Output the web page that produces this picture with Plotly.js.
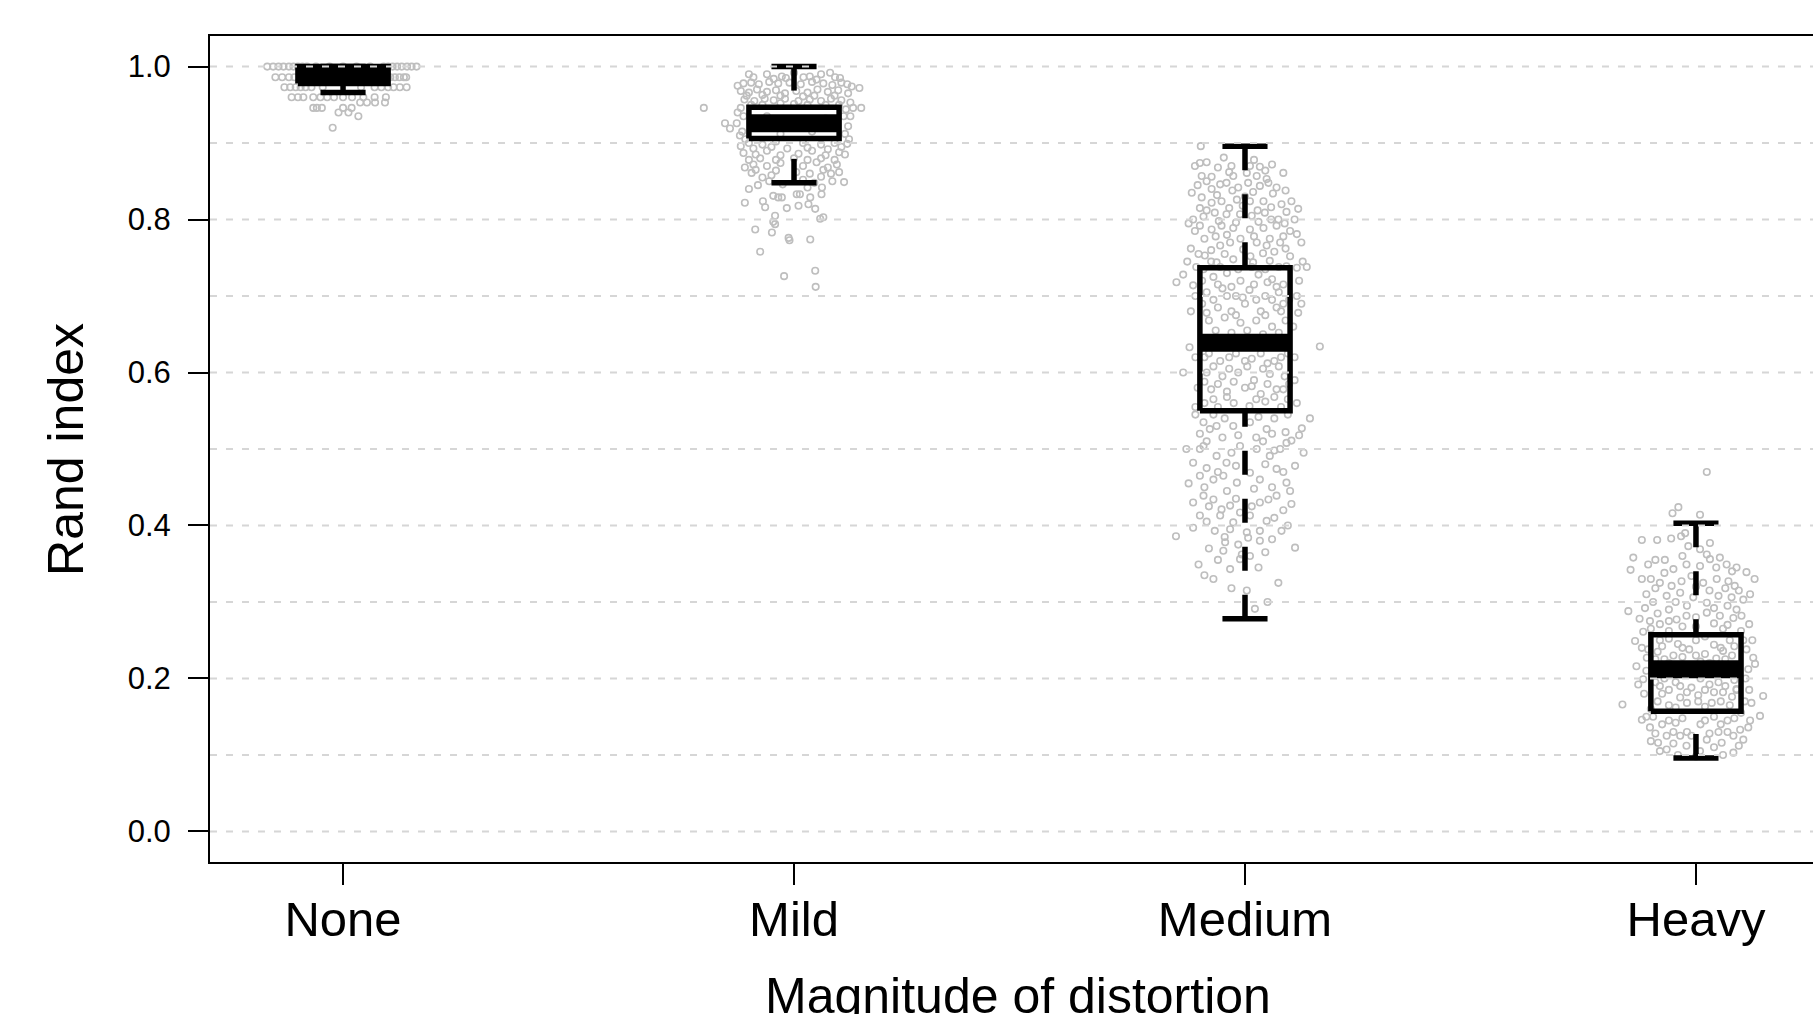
<!DOCTYPE html>
<html>
<head>
<meta charset="utf-8">
<script src="https://cdn.plot.ly/plotly-3.0.1.min.js"></script>
<style>
html, body { margin: 0; padding: 0; overflow: hidden; background: #fff; }
#chart { width: 1840px; height: 1014px; }
</style>
</head>
<body>
<div id="chart"></div>
<script>
// ---- data ----
const categories = ['None', 'Mild', 'Medium', 'Heavy'];
const tickValues = [0, 0.2, 0.4, 0.6, 0.8, 1.0];
const tickLabels = ['0.0', '0.2', '0.4', '0.6', '0.8', '1.0'];
const gridValues = [0, 0.1, 0.2, 0.3, 0.4, 0.5, 0.6, 0.7, 0.8, 0.9, 1.0];

// box-plot statistics per category
const lowerWhisker = [0.966, 0.848, 0.278, 0.096];
const lowerQuartile = [0.978, 0.906, 0.550, 0.157];
const medianValue = [0.990, 0.926, 0.639, 0.212];
const upperQuartile = [1.000, 0.947, 0.737, 0.257];
const upperWhisker = [1.000, 1.000, 0.896, 0.403];

// jittered observations: [horizontal jitter, Rand index]
const nonePoints = [
  [-0.168,1.0],[-0.155,1.0],[-0.143,1.0],[-0.132,1.0],[-0.12,1.0],[-0.11,1.0],[-0.1,1.0],[-0.09,1.0],[-0.08,1.0],[-0.06,1.0],[-0.03,1.0],[0.0,1.0],[0.03,1.0],[0.06,1.0],[0.09,1.0],[0.1,1.0],[0.11,1.0],[0.12,1.0],[0.13,1.0],[0.142,1.0],[0.152,1.0],[0.163,1.0],
  [-0.15,0.986],[-0.135,0.986],[-0.12,0.986],[-0.108,0.986],[-0.095,0.986],[0.095,0.986],[0.105,0.986],[0.115,0.986],[0.125,0.986],[0.135,0.986],[0.14,0.986],
  [-0.13,0.973],[-0.117,0.973],[-0.105,0.973],[-0.094,0.973],[-0.083,0.973],[-0.07,0.973],[-0.045,0.973],[0.04,0.973],[0.07,0.973],[0.085,0.973],[0.1,0.973],[0.112,0.973],[0.126,0.973],[0.141,0.973],
  [-0.114,0.96],[-0.1,0.96],[-0.088,0.96],[-0.066,0.96],[-0.05,0.96],[-0.035,0.96],[-0.02,0.96],[0.0,0.96],[0.02,0.96],[0.045,0.96],[0.07,0.96],[0.095,0.96],
  [0.038,0.953],[0.053,0.953],[0.071,0.953],[0.093,0.953],
  [-0.066,0.946],[-0.058,0.946],[-0.047,0.946],[-0.01,0.94],[0.0,0.946],[0.012,0.94],[0.019,0.946],
  [0.034,0.935],[-0.023,0.92]
];
const mildPoints = [
  [-0.090,0.986],[-0.027,0.987],[-0.018,0.985],[0.021,0.986],[0.035,0.987],[0.091,0.986],[0.102,0.985],[-0.06,0.99],[0.06,0.99],[0.0,0.992],
  [-0.1,0.99],[0.08,0.992],[-0.045,0.984],[0.05,0.983],[-0.125,0.975],[0.128,0.974],
  [-0.112,0.978],[-0.095,0.979],[-0.078,0.977],[-0.055,0.98],[-0.035,0.978],[-0.01,0.979],[0.015,0.977],[0.04,0.98],[0.065,0.978],[0.085,0.976],[0.105,0.979],[0.118,0.977],
  [-0.118,0.968],[-0.1,0.966],[-0.082,0.97],[-0.06,0.967],[-0.04,0.969],[-0.02,0.965],[0.005,0.968],[0.03,0.966],[0.052,0.97],[0.075,0.967],[0.098,0.969],[0.12,0.965],[0.145,0.972],
  [-0.105,0.962],[-0.07,0.963],[-0.03,0.962],[0.02,0.961],[0.045,0.962],[0.09,0.962],
  [-0.11,0.957],[-0.088,0.955],[-0.065,0.958],[-0.045,0.956],[-0.02,0.958],[0.01,0.955],[0.035,0.957],[0.06,0.955],[0.082,0.958],[0.105,0.956],[0.125,0.953],
  [-0.095,0.95],[-0.07,0.95],[-0.03,0.952],[0.0,0.951],[0.03,0.95],[0.07,0.95],[0.1,0.95],
  [-0.2,0.946],[0.131,0.946],[0.149,0.946],[-0.118,0.946],[0.115,0.944],
  [-0.125,0.94],[0.125,0.935],[-0.12,0.91],[0.122,0.905],
  [-0.153,0.926],[-0.142,0.919],[-0.127,0.926],[-0.112,0.935],[-0.115,0.915],[0.11,0.935],[0.12,0.922],[0.113,0.912],[-0.108,0.905],
  [-0.06,0.935],[0.04,0.915],[-0.03,0.912],[0.07,0.932],
  [-0.1,0.9],[-0.07,0.898],[-0.04,0.902],[0.02,0.9],[0.06,0.898],[0.09,0.9],[0.118,0.899],[-0.118,0.896],
  [-0.09,0.893],[-0.05,0.895],[-0.015,0.893],[0.03,0.894],[0.075,0.892],[0.105,0.895],
  [-0.112,0.887],[-0.085,0.885],[-0.06,0.89],[-0.03,0.884],[0.01,0.886],[0.04,0.89],[0.07,0.884],[0.1,0.888],[0.113,0.885],
  [-0.1,0.878],[-0.075,0.88],[-0.04,0.878],[0.0,0.88],[0.03,0.878],[0.06,0.88],[0.09,0.878],
  [-0.109,0.868],[-0.09,0.872],[-0.06,0.87],[-0.03,0.874],[0.02,0.87],[0.05,0.875],[0.075,0.868],[0.095,0.872],
  [-0.085,0.865],[-0.04,0.864],[0.005,0.862],[0.065,0.865],[0.1,0.862],
  [-0.094,0.861],[-0.05,0.858],[0.035,0.86],[0.06,0.856],[0.082,0.86],[-0.07,0.855],
  [0.111,0.849],[-0.055,0.85],[0.045,0.848],[-0.025,0.846],[0.062,0.842],[0.02,0.852],
  [-0.08,0.845],[0.03,0.842],[0.085,0.85],[-0.1,0.84],
  [-0.109,0.822],[-0.069,0.824],[-0.064,0.816],[-0.046,0.831],[-0.035,0.829],[-0.027,0.829],[0.006,0.833],[0.013,0.833],[0.032,0.82],[0.047,0.814],[0.061,0.833],[0.036,0.829],[-0.016,0.815],[0.01,0.818],
  [-0.042,0.805],[-0.046,0.797],[-0.042,0.794],[0.058,0.801],[0.065,0.803],[-0.086,0.787],[-0.049,0.783],[-0.012,0.776],[-0.01,0.773],[0.036,0.774],
  [-0.075,0.758],[0.047,0.733],[-0.022,0.726],[0.048,0.712]
];
const mediumPoints = [
  [-0.098,0.896],[-0.047,0.881],[-0.1,0.874],[-0.111,0.870],[-0.030,0.870],[0.011,0.870],[0.033,0.869],[-0.096,0.857],[-0.074,0.856],[-0.026,0.857],[0.004,0.861],[0.026,0.857],[0.048,0.853],[0.085,0.861],
  [-0.085,0.875],[-0.06,0.868],[0.02,0.878],[0.06,0.872],[-0.035,0.862],[0.045,0.864],
  [-0.118,0.835],[-0.096,0.829],[-0.074,0.840],[-0.055,0.846],[-0.041,0.848],[-0.015,0.842],[0.007,0.848],[0.033,0.844],[0.052,0.848],[0.070,0.842],
  [-0.105,0.845],[-0.085,0.85],[-0.028,0.838],[0.018,0.836],[0.062,0.834],[0.09,0.838],[-0.062,0.832],[0.0,0.83],
  [-0.074,0.822],[-0.052,0.824],[-0.018,0.826],[0.011,0.824],[0.041,0.824],[0.081,0.820],[0.103,0.824],[0.118,0.814],
  [-0.1,0.815],[-0.085,0.812],[-0.035,0.815],[-0.005,0.818],[0.028,0.812],[0.058,0.816],[0.092,0.81],
  [-0.115,0.800],[-0.092,0.804],[-0.067,0.809],[-0.041,0.807],[-0.011,0.807],[0.015,0.805],[0.044,0.809],[0.074,0.800],
  [-0.125,0.795],[-0.058,0.798],[-0.02,0.796],[0.03,0.797],[0.058,0.8],[0.088,0.795],[0.11,0.8],
  [-0.111,0.785],[-0.1,0.792],[-0.074,0.787],[-0.052,0.792],[-0.026,0.789],[0.011,0.787],[0.041,0.789],[0.070,0.792],[0.1,0.785],[0.115,0.781],
  [-0.09,0.775],[-0.065,0.778],[-0.04,0.78],[-0.01,0.775],[0.02,0.778],[0.055,0.775],[0.085,0.778],[0.125,0.77],
  [-0.12,0.762],[-0.075,0.76],[-0.045,0.755],[0.012,0.752],[0.04,0.756],[0.065,0.758],[0.09,0.762],
  [-0.103,0.755],[-0.089,0.753],[-0.055,0.766],[-0.033,0.770],[-0.004,0.761],[0.026,0.770],[0.048,0.766],[0.078,0.770],[0.1,0.752],[0.137,0.738],
  [-0.128,0.745],[-0.108,0.738],[-0.095,0.72],[0.12,0.72],[0.128,0.745],[-0.11,0.70],[-0.12,0.68],[0.125,0.69],
  [-0.152,0.718],[-0.137,0.728],[-0.115,0.714],
  [-0.063,0.744],[-0.026,0.748],[0.018,0.744],[0.055,0.746],[0.092,0.739],[0.115,0.737],
  [-0.075,0.745],[-0.055,0.738],[-0.015,0.735],[0.015,0.738],[0.045,0.735],[0.075,0.738],
  [-0.092,0.735],[-0.07,0.725],[-0.04,0.73],[-0.01,0.72],[0.03,0.728],[0.06,0.722],[0.085,0.715],
  [-0.06,0.715],[-0.03,0.712],[0.02,0.715],[0.05,0.718],[0.07,0.712],
  [-0.085,0.705],[-0.05,0.71],[-0.02,0.70],[0.01,0.708],[0.045,0.70],[0.075,0.705],[0.098,0.695],[0.115,0.70],
  [-0.07,0.695],[-0.04,0.7],[-0.005,0.698],[0.025,0.695],[0.06,0.695],[0.085,0.69],
  [-0.095,0.69],[-0.06,0.685],[-0.03,0.68],[0.0,0.69],[0.035,0.68],[0.07,0.685],[0.118,0.678],
  [-0.085,0.678],[-0.02,0.675],[0.045,0.675],[0.08,0.68],
  [-0.08,0.668],[-0.045,0.672],[-0.01,0.665],[0.025,0.668],[0.06,0.66],[0.09,0.668],[0.107,0.66],
  [-0.065,0.655],[-0.03,0.652],[0.005,0.655],[0.04,0.65],[0.075,0.652],
  [-0.123,0.633],[0.166,0.634],
  [-0.09,0.62],[-0.055,0.615],[-0.02,0.625],[0.015,0.618],[0.05,0.612],[0.08,0.62],
  [-0.08,0.625],[-0.035,0.62],[0.0,0.615],[0.035,0.625],[0.065,0.615],[0.095,0.625],[-0.11,0.62],[0.11,0.62],
  [-0.07,0.608],[-0.035,0.605],[0.005,0.608],[0.04,0.605],[0.075,0.608],
  [-0.137,0.60],[-0.085,0.60],[-0.05,0.595],[-0.015,0.60],[0.02,0.59],[0.055,0.598],[0.088,0.595],
  [-0.09,0.588],[-0.06,0.585],[-0.025,0.588],[0.015,0.582],[0.05,0.585],[0.085,0.578],[-0.105,0.58],[0.11,0.59],
  [-0.075,0.578],[-0.04,0.575],[0.0,0.58],[0.035,0.572],[0.07,0.578],[0.098,0.585],
  [-0.07,0.565],[-0.04,0.568],[0.025,0.565],[0.065,0.568],[0.095,0.565],[-0.11,0.555],[0.115,0.56],
  [-0.09,0.56],[-0.06,0.555],[-0.025,0.56],[0.01,0.556],[0.045,0.562],[0.08,0.555],
  [-0.11,0.545],[-0.07,0.545],[-0.045,0.54],[0.03,0.542],[0.065,0.54],[0.095,0.545],
  [-0.092,0.535],[-0.078,0.526],[-0.063,0.530],[-0.026,0.530],[0.011,0.535],[0.048,0.526],[0.126,0.527],[0.144,0.540],
  [-0.1,0.52],[-0.05,0.515],[-0.015,0.518],[0.025,0.515],[0.06,0.52],[0.09,0.522],[0.12,0.518],
  [-0.085,0.51],[-0.03,0.495],[0.04,0.51],[0.065,0.498],[-0.13,0.5],[0.13,0.495],
  [-0.115,0.482],[-0.1,0.50],[-0.092,0.504],[-0.063,0.491],[-0.041,0.482],[-0.011,0.504],[0.026,0.50],[0.055,0.491],[0.078,0.50],[0.092,0.508],[0.103,0.511],[0.111,0.478],
  [-0.085,0.475],[-0.06,0.47],[-0.02,0.478],[0.045,0.48],[0.085,0.47],[-0.1,0.465],
  [-0.07,0.460],[-0.048,0.465],[-0.018,0.456],[0.011,0.469],[0.033,0.460],[0.070,0.474],[0.092,0.456],
  [-0.09,0.45],[-0.04,0.445],[0.02,0.448],[0.06,0.45],[0.1,0.445],[-0.125,0.455],
  [-0.115,0.430],[-0.092,0.439],[-0.070,0.434],[-0.052,0.421],[-0.033,0.426],[-0.011,0.417],[0.033,0.430],[0.052,0.434],[0.070,0.439],[0.103,0.428],
  [-0.08,0.425],[0.015,0.425],[0.085,0.42],[-0.02,0.435],
  [-0.1,0.413],[-0.055,0.413],[-0.026,0.404],[0.011,0.413],[0.048,0.406],
  [-0.085,0.405],[0.065,0.41],[-0.045,0.385],[0.06,0.382],[0.095,0.4],
  [-0.115,0.397],[-0.067,0.393],[-0.033,0.395],[0.004,0.391],[0.033,0.393],[0.081,0.393],[-0.153,0.386],
  [-0.044,0.378],[-0.015,0.375],[0.007,0.384],[0.033,0.380],[0.111,0.371],
  [-0.08,0.37],[0.045,0.365],[-0.06,0.355],[0.03,0.345],[-0.09,0.335],[0.05,0.3],
  [-0.103,0.349],[-0.048,0.367],[-0.007,0.362],[0.011,0.360],
  [-0.070,0.330],[-0.033,0.343],[-0.011,0.356],[0.074,0.325],[-0.030,0.318],[0.004,0.315],[0.022,0.291]
];
const heavyPoints = [
  [0.024,0.470],[-0.052,0.416],[-0.039,0.424],[0.009,0.414],
  [-0.120,0.381],[-0.086,0.381],[-0.055,0.383],[-0.033,0.386],[-0.024,0.390],
  [-0.017,0.373],[0.009,0.369],[0.024,0.362],[0.031,0.377],
  [-0.139,0.358],[-0.145,0.342],[-0.106,0.349],[-0.069,0.355],[-0.050,0.343],[-0.021,0.349],[0.009,0.347],[0.031,0.356],[0.053,0.358],[0.068,0.349],[0.090,0.345],[0.112,0.339],
  [-0.09,0.355],[-0.03,0.36],[0.045,0.345],[0.08,0.34],[-0.07,0.338],
  [-0.080,0.325],[-0.054,0.321],[-0.032,0.327],[-0.010,0.334],[0.016,0.325],[0.046,0.330],[0.072,0.327],[0.086,0.321],[-0.12,0.33],[0.13,0.33],
  [-0.1,0.33],[0.0,0.32],[0.03,0.315],[0.065,0.318],
  [-0.11,0.31],[-0.09,0.318],[0.095,0.315],[0.12,0.31],
  [-0.045,0.3],[-0.02,0.295],[0.04,0.292],[0.07,0.295],[0.09,0.29],[-0.085,0.285],[-0.06,0.29],
  [-0.150,0.288],[-0.113,0.292],[-0.095,0.300],[-0.065,0.308],[-0.035,0.312],[-0.006,0.306],[0.024,0.299],[0.050,0.308],[0.079,0.306],[0.105,0.303],
  [-0.125,0.278],[0.0,0.28],[0.04,0.272],[0.07,0.27],[-0.06,0.275],[-0.03,0.268],
  [-0.102,0.275],[-0.080,0.271],[-0.043,0.277],[-0.021,0.282],[0.024,0.286],[0.053,0.282],[0.083,0.279],[0.101,0.282],[0.118,0.271],
  [-0.1,0.265],[-0.06,0.262],[0.0,0.268],[0.06,0.265],[0.1,0.262],
  [-0.117,0.261],[-0.135,0.249],[-0.132,0.216],[-0.128,0.192],[-0.163,0.166],[-0.109,0.227],[-0.117,0.199],[-0.106,0.238],
  [-0.12,0.24],[-0.11,0.21],[-0.115,0.18],[0.105,0.25],[0.11,0.2],[0.118,0.185],[0.108,0.17],[0.125,0.25],
  [0.112,0.238],[0.127,0.227],[0.131,0.219],[0.116,0.212],[0.149,0.177],[0.142,0.151],[0.123,0.168],[0.090,0.216],[0.090,0.186],
  [-0.08,0.25],[-0.04,0.245],[0.0,0.25],[0.04,0.244],[0.075,0.25],
  [-0.06,0.252],[0.02,0.255],[0.055,0.24],[-0.03,0.24],[-0.075,0.242],[0.085,0.242],
  [-0.085,0.235],[-0.05,0.23],[-0.015,0.238],[0.02,0.232],[0.06,0.236],
  [-0.07,0.225],[-0.03,0.228],[0.01,0.222],[0.045,0.226],[0.08,0.23],
  [-0.06,0.22],[0.0,0.23],[0.03,0.22],[0.065,0.225],[-0.09,0.225],
  [-0.07,0.2],[-0.035,0.19],[0.01,0.2],[0.05,0.195],[0.085,0.198],[-0.09,0.195],
  [-0.08,0.19],[-0.045,0.195],[-0.01,0.188],[0.03,0.192],[0.065,0.19],
  [-0.06,0.185],[-0.02,0.182],[0.02,0.185],[0.06,0.182],[0.09,0.185],
  [-0.075,0.18],[-0.035,0.175],[0.005,0.178],[0.04,0.182],[0.08,0.176],
  [-0.085,0.17],[-0.045,0.162],[0.005,0.17],[0.035,0.168],[0.075,0.165],
  [-0.06,0.165],[-0.02,0.168],[0.02,0.163],[0.055,0.17],
  [-0.095,0.15],[-0.06,0.145],[-0.03,0.148],[0.01,0.14],[0.04,0.15],[0.07,0.145],[-0.1,0.16],[0.1,0.155],[-0.05,0.13],[0.05,0.13],[-0.01,0.125],
  [-0.11,0.15],[-0.075,0.14],[-0.045,0.142],[0.02,0.145],[0.055,0.14],[0.085,0.148],[0.12,0.145],
  [-0.09,0.128],[-0.065,0.125],[-0.02,0.13],[0.03,0.128],[0.07,0.13],[0.105,0.12],
  [-0.1,0.118],[-0.05,0.115],[0.04,0.11],[0.095,0.112],[-0.04,0.1],[0.06,0.1],[0.0,0.098],
  [-0.120,0.146],[-0.102,0.136],[-0.084,0.116],[-0.065,0.107],[-0.035,0.125],[0.024,0.120],[0.057,0.116],[0.083,0.125],[0.098,0.133],[0.116,0.136],[0.083,0.103],[-0.080,0.105],[-0.021,0.112],[0.009,0.105]
];
const groupPoints = [nonePoints, mildPoints, mediumPoints, heavyPoints];

// ---- styling ----
const FONT = '"Liberation Sans", Arial, Helvetica, sans-serif';
const boxHalf = 0.1;
const capHalf = 0.05;
const lineW = 5.5;
const medianW = 18;

const traces = [];
groupPoints.forEach((pts, i) => {
  traces.push({
    type: 'scatter', mode: 'markers',
    x: pts.map(p => i + p[0]),
    y: pts.map(p => p[1]),
    marker: { symbol: 'circle-open', size: 6.5, color: '#bebebe', line: { width: 1.6, color: '#bebebe' } },
    hoverinfo: 'skip', cliponaxis: false
  });
});

categories.forEach((c, i) => {
  const black = { color: '#000', width: lineW };
  traces.push({ type: 'scatter', mode: 'lines', x: [i, i], y: [lowerWhisker[i], lowerQuartile[i]],
    line: { color: '#000', width: lineW, dash: '24px,24px' }, hoverinfo: 'skip' });
  traces.push({ type: 'scatter', mode: 'lines', x: [i, i], y: [upperWhisker[i], upperQuartile[i]],
    line: { color: '#000', width: lineW, dash: '24px,24px' }, hoverinfo: 'skip' });
  traces.push({ type: 'scatter', mode: 'lines', x: [i - capHalf, i + capHalf], y: [lowerWhisker[i], lowerWhisker[i]],
    line: black, hoverinfo: 'skip' });
  traces.push({ type: 'scatter', mode: 'lines', x: [i - capHalf, i + capHalf], y: [upperWhisker[i], upperWhisker[i]],
    line: black, hoverinfo: 'skip' });
  traces.push({ type: 'scatter', mode: 'lines',
    x: [i - boxHalf, i + boxHalf, i + boxHalf, i - boxHalf, i - boxHalf],
    y: [lowerQuartile[i], lowerQuartile[i], upperQuartile[i], upperQuartile[i], lowerQuartile[i]],
    line: black, hoverinfo: 'skip' });
  traces.push({ type: 'scatter', mode: 'lines', x: [i - boxHalf, i + boxHalf], y: [medianValue[i], medianValue[i]],
    line: { color: '#000', width: medianW }, hoverinfo: 'skip' });
});

const shapes = gridValues.map(v => ({
  type: 'line', xref: 'paper', x0: 0, x1: 1, yref: 'y', y0: v, y1: v,
  line: { color: '#d6d6d6', width: 2, dash: '7px,9px' }, layer: 'above'
}));

const layout = {
  width: 1840, height: 1014,
  margin: { l: 210, r: 11, t: 36, b: 152 },
  paper_bgcolor: '#fff', plot_bgcolor: '#fff',
  showlegend: false, hovermode: false,
  font: { family: FONT, color: '#000' },
  xaxis: {
    range: [-0.295, 3.295], tickmode: 'array', tickvals: categories.map((c, i) => i), ticktext: categories,
    ticks: 'outside', ticklen: 21, tickwidth: 2, tickcolor: '#000', ticklabelstandoff: -8,
    showline: true, linewidth: 2, linecolor: '#000', mirror: true,
    showgrid: false, zeroline: false, tickfont: { family: FONT, size: 49, color: '#000' }
  },
  yaxis: {
    range: [-0.04, 1.04], tickmode: 'array', tickvals: tickValues, ticktext: tickLabels,
    ticks: 'outside', ticklen: 20, tickwidth: 2, tickcolor: '#000', ticklabelstandoff: 11,
    showline: true, linewidth: 2, linecolor: '#000', mirror: true,
    showgrid: false, zeroline: false, tickfont: { family: FONT, size: 31, color: '#000' }
  },
  shapes: shapes,
  annotations: [
    { text: 'Magnitude of distortion', xref: 'paper', yref: 'paper', x: 0.4988, y: -0.1259,
      xanchor: 'center', yanchor: 'top', showarrow: false, font: { family: FONT, size: 50, color: '#000' } },
    { text: 'Rand index', xref: 'paper', yref: 'paper', x: -0.089, y: 0.5, textangle: -90,
      xanchor: 'center', yanchor: 'middle', showarrow: false, font: { family: FONT, size: 50, color: '#000' } }
  ]
};

Plotly.newPlot('chart', traces, layout, { displayModeBar: false, staticPlot: true });
</script>
</body>
</html>
